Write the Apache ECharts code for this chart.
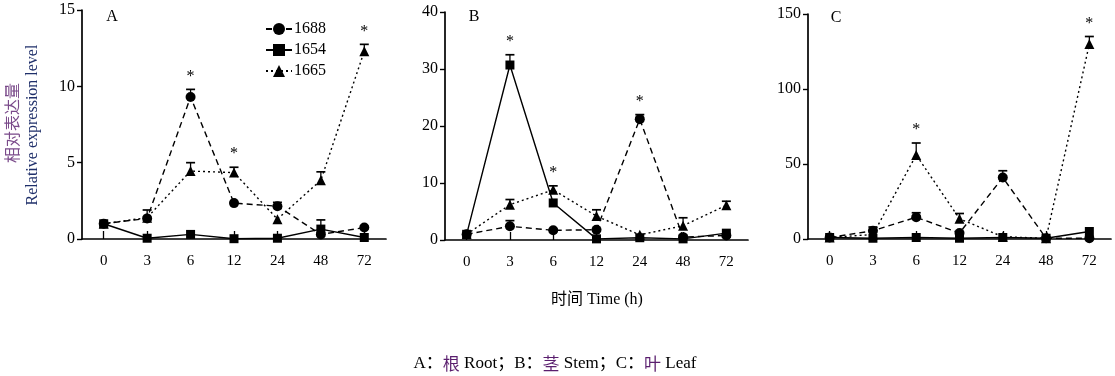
<!DOCTYPE html>
<html><head><meta charset="utf-8">
<script src="https://cdn.jsdelivr.net/npm/echarts@6/dist/echarts.min.js"></script>
<style>html,body{margin:0;padding:0;background:#fff}#c{width:1115px;height:376px}</style>
</head><body><div id="c"></div>
<script>
// ---- data ----
const categories = ['0', '3', '6', '12', '24', '48', '72'];
const seriesNames = ['1688', '1654', '1665'];

// Panel A: root
const rootA_1688 = [1.0, 1.35, 9.3, 2.35, 2.15, 0.3, 0.75];
const rootA_1654 = [1.0, 0.05, 0.3, 0.02, 0.05, 0.65, 0.1];
const rootA_1665 = [1.0, 1.4, 4.45, 4.35, 1.3, 3.85, 12.3];
const rootA_1688_err = [0, 0.55, 0.5, 0, 0.25, 0, 0];
const rootA_1654_err = [0, 0, 0, 0, 0, 0.6, 0];
const rootA_1665_err = [0, 0, 0.55, 0.35, 0, 0.55, 0.45];
const rootA_sig = [['1688', 2], ['1665', 3], ['1665', 6]];

// Panel B: stem
const stemB_1688 = [1.0, 2.4, 1.7, 1.8, 21.2, 0.5, 0.8];
const stemB_1654 = [1.0, 30.7, 6.5, 0.2, 0.4, 0.2, 1.2];
const stemB_1665 = [1.0, 6.2, 8.8, 4.2, 0.9, 2.5, 6.1];
const stemB_1688_err = [0, 1.0, 0, 0, 0.8, 0, 0];
const stemB_1654_err = [0, 1.8, 0, 0, 0, 0, 0];
const stemB_1665_err = [0, 0.9, 0.7, 1.1, 0, 1.4, 0.7];
const stemB_sig = [['1654', 1], ['1665', 2], ['1688', 4]];

// Panel C: leaf
const leafC_1688 = [1.0, 5.5, 14.5, 4.0, 41, 0.5, 0.5];
const leafC_1654 = [1.0, 0.5, 1.0, 0.5, 1.0, 0.5, 5.0];
const leafC_1665 = [1.0, 3.0, 56, 13.5, 1.5, 0.5, 130];
const leafC_1688_err = [0, 2.5, 3, 0, 4.5, 0, 0];
const leafC_1654_err = [0, 0, 0, 0, 0, 0, 0];
const leafC_1665_err = [0, 0, 8, 3.5, 0, 0, 5];
const leafC_sig = [['1665', 2], ['1665', 6]];

// y-axis tick settings (max, interval)
const yMaxes = [15, 40, 150];
const yIntervals = [5, 10, 50];
const panelLetters = ['A', 'B', 'C'];

// ---- chart ----
const SERIF = '"Liberation Serif","Times New Roman","Noto Sans CJK SC",serif';
const panels = [
  {vals: {'1688': rootA_1688, '1654': rootA_1654, '1665': rootA_1665},
   errs: {'1688': rootA_1688_err, '1654': rootA_1654_err, '1665': rootA_1665_err}, sig: rootA_sig},
  {vals: {'1688': stemB_1688, '1654': stemB_1654, '1665': stemB_1665},
   errs: {'1688': stemB_1688_err, '1654': stemB_1654_err, '1665': stemB_1665_err}, sig: stemB_sig},
  {vals: {'1688': leafC_1688, '1654': leafC_1654, '1665': leafC_1665},
   errs: {'1688': leafC_1688_err, '1654': leafC_1654_err, '1665': leafC_1665_err}, sig: leafC_sig}
];
const grids = [
  {left: 82, top: 10, width: 304, height: 229},
  {left: 445, top: 12, width: 303, height: 228},
  {left: 808, top: 14, width: 303, height: 225}
];
const styleOf = {
  '1688': {symbol: 'circle', symbolSize: 10, type: [6, 4]},
  '1654': {symbol: 'rect', symbolSize: 9, type: 'solid'},
  '1665': {symbol: 'triangle', symbolSize: 10, type: [2, 3]}
};

const xAxes = [], yAxes = [], series = [];
grids.forEach((g, i) => {
  xAxes.push({
    type: 'category', gridIndex: i, data: categories, boundaryGap: true,
    axisLine: {lineStyle: {color: '#000', width: 1.7}},
    axisTick: {show: true, inside: true, alignWithLabel: true, length: 8, lineStyle: {color: '#000', width: 1.3}},
    axisLabel: {color: '#000', fontFamily: SERIF, fontSize: 15, margin: 15},
    splitLine: {show: false}
  });
  yAxes.push({
    type: 'value', gridIndex: i, min: 0, max: yMaxes[i], interval: yIntervals[i],
    axisLine: {show: true, lineStyle: {color: '#000', width: 1.7}},
    axisTick: {show: true, length: 5, lineStyle: {color: '#000', width: 1.4}},
    axisLabel: {color: '#000', fontFamily: SERIF, fontSize: 16, margin: 7},
    splitLine: {show: false}
  });
  const p = panels[i];
  seriesNames.forEach(name => {
    const st = styleOf[name];
    series.push({
      name, type: 'line', xAxisIndex: i, yAxisIndex: i, data: p.vals[name],
      symbol: st.symbol, symbolSize: st.symbolSize, showAllSymbol: true,
      lineStyle: {color: '#000', width: 1.4, type: st.type},
      itemStyle: {color: '#000'}, z: 3, animation: false
    });
    const ebData = [];
    p.vals[name].forEach((v, k) => { if (p.errs[name][k] > 0) ebData.push([k, v, p.errs[name][k]]); });
    series.push({
      type: 'custom', xAxisIndex: i, yAxisIndex: i, data: ebData, z: 2, animation: false,
      encode: {x: 0, y: 1}, silent: true,
      renderItem: (params, api) => {
        const x = api.value(0), v = api.value(1), e = api.value(2);
        const p0 = api.coord([x, v]), p1 = api.coord([x, v + e]);
        return {type: 'group', children: [
          {type: 'line', shape: {x1: p0[0], y1: p0[1], x2: p1[0], y2: p1[1]}, style: {stroke: '#000', lineWidth: 1.3}},
          {type: 'line', shape: {x1: p1[0] - 4.5, y1: p1[1], x2: p1[0] + 4.5, y2: p1[1]}, style: {stroke: '#000', lineWidth: 1.7}}
        ]};
      }
    });
  });
  const sigData = p.sig.map(([name, k]) => [k, p.vals[name][k] + p.errs[name][k]]);
  series.push({
    type: 'custom', xAxisIndex: i, yAxisIndex: i, data: sigData, z: 4, animation: false,
    encode: {x: 0, y: 1}, silent: true,
    renderItem: (params, api) => {
      const c = api.coord([api.value(0), api.value(1)]);
      return {type: 'text', x: c[0], y: c[1] - 5,
        style: {text: '*', fill: '#000', font: '16px ' + SERIF, align: 'center', verticalAlign: 'bottom'}};
    }
  });
});

const graphics = [
  {type: 'text', x: 12, y: 123, rotation: Math.PI / 2,
   style: {text: '相对表达量', fill: '#7a4a8a', font: '16px "Noto Sans CJK SC",sans-serif', align: 'center', verticalAlign: 'middle'}},
  {type: 'text', x: 33, y: 125, rotation: Math.PI / 2,
   style: {text: 'Relative expression level', fill: '#1f2f6a', font: '16px ' + SERIF, align: 'center', verticalAlign: 'middle'}},
  {type: 'text', x: 597, y: 300,
   style: {text: '时间 Time (h)', fill: '#000', font: '16px ' + SERIF, align: 'center', verticalAlign: 'middle'}},
  {type: 'text', x: 555, y: 364,
   style: {
     text: '{n|A：}{c|根}{n| Root；B：}{c|茎}{n| Stem；C：}{c|叶}{n| Leaf}',
     align: 'center', verticalAlign: 'middle',
     rich: {
       n: {fill: '#000', font: '17px ' + SERIF},
       c: {fill: '#5a1e6e', font: '17px "Noto Sans CJK SC",sans-serif'}
     }
   }}
];
const letterPos = [[112, 17], [474, 17], [836, 18]];
panelLetters.forEach((t, i) => {
  graphics.push({type: 'text', x: letterPos[i][0], y: letterPos[i][1],
    style: {text: t, fill: '#000', font: '16px ' + SERIF, align: 'center', verticalAlign: 'middle'}});
});

const chart = echarts.init(document.getElementById('c'), null, {renderer: 'canvas'});
chart.setOption({
  backgroundColor: '#fff',
  animation: false,
  grid: grids,
  xAxis: xAxes,
  yAxis: yAxes,
  legend: {
    data: seriesNames, orient: 'vertical', left: 260, top: 16, itemGap: 5,
    itemWidth: 26, itemHeight: 15, selectedMode: false,
    textStyle: {color: '#000', fontFamily: SERIF, fontSize: 16, padding: [0, 0, 0, -3]}
  },
  series,
  graphic: graphics
});
</script></body></html>
